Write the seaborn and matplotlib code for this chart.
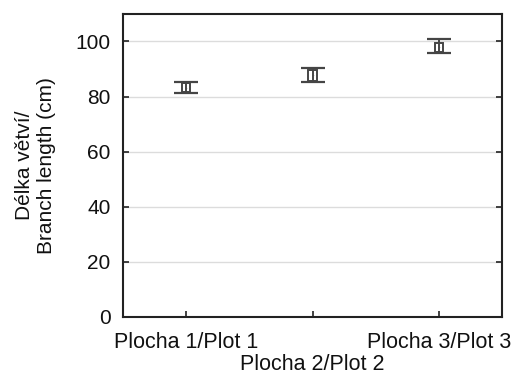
import matplotlib
matplotlib.use("Agg")
import matplotlib.pyplot as plt
import seaborn as sns
import numpy as np
import pandas as pd

categories = ["Plocha 1/Plot 1", "Plocha 2/Plot 2", "Plocha 3/Plot 3"]
means = [83.2, 87.8, 98.0]
box_low = [81.7, 85.7, 96.1]
box_high = [84.9, 89.8, 99.5]
whisk_low = [81.4, 85.4, 95.7]
whisk_high = [85.4, 90.3, 100.8]
yticks = [0, 20, 40, 60, 80, 100]

sns.set_theme(style="white")
plt.rcParams['font.family'] = ['Liberation Sans', 'DejaVu Sans']

col = "#454545"
fig = plt.figure(figsize=(5.17, 3.76), dpi=100)
ax = fig.add_axes([0.238, 0.157, 0.733, 0.806])

df = pd.DataFrame({"cat": categories, "mean": means})
sns.pointplot(data=df, x="cat", y="mean", linestyle="none", marker="|",
              markersize=0.1, color=col, errorbar=None, ax=ax)

pos = np.arange(len(categories))
means_a = np.array(means)
yerr = np.vstack([means_a - np.array(whisk_low), np.array(whisk_high) - means_a])
ax.errorbar(pos, means_a, yerr=yerr, fmt="none", ecolor=col, elinewidth=1.4,
            capsize=8.6, capthick=1.6, zorder=3)
ax.bar(pos, np.array(box_high) - np.array(box_low), bottom=box_low, width=0.066,
       fill=False, edgecolor=col, linewidth=1.4, zorder=4)

ax.set_xlim(-0.5, 2.5)
ax.set_ylim(0, 110)
ax.set_yticks(yticks)
ax.set_yticklabels([str(v) for v in yticks])
ax.set_xticks(pos)
ax.set_xticklabels(categories)
for y in yticks[1:]:
    ax.axhline(y, color="#dcdcdc", linewidth=1.0, zorder=0)

ax.tick_params(axis="both", direction="in", length=4, width=1.2, colors="#222222",
               labelcolor="#111111")
ax.tick_params(axis="y", right=True, left=True, labelsize=15, pad=9)
ax.tick_params(axis="x", bottom=True, labelsize=15.5, pad=11)
for s in ax.spines.values():
    s.set_color("#222222")
    s.set_linewidth(1.5)

xt = ax.xaxis.get_major_ticks()
xt[1].set_pad(11 + 16)

ax.set_xlabel("")
ax.set_ylabel("Délka větví/\nBranch length (cm)", fontsize=15, color="#111111",
              labelpad=14, linespacing=1.2)

fig.savefig("out.png", dpi=100)
